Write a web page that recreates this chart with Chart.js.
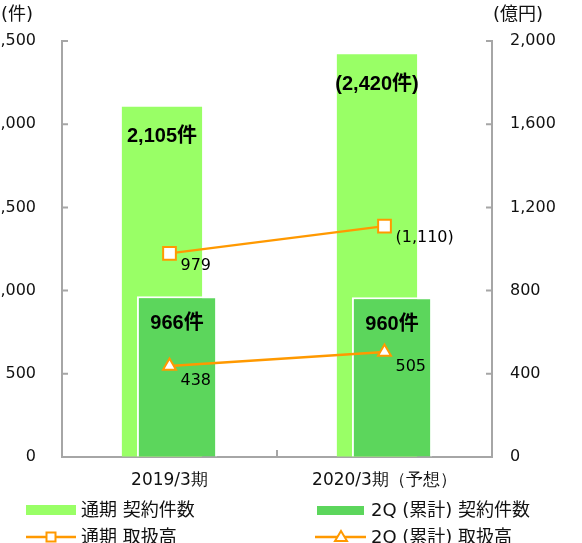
<!DOCTYPE html>
<html>
<head>
<meta charset="utf-8">
<script src="https://cdn.jsdelivr.net/npm/chart.js@4"></script>
<style>
  body { margin: 0; background: #fff; overflow: hidden; }
  #wrap { position: relative; width: 582px; height: 543px; }
  .lg { position: absolute; font: 18px "DejaVu Sans", "Noto Sans CJK JP", sans-serif; color: #111; line-height: 20px; white-space: nowrap; }
  .sw { position: absolute; }
</style>
</head>
<body>
<div id="wrap">
  <canvas id="c" width="582" height="543"></canvas>
  <div class="sw" style="left:26px;top:505px;width:50px;height:10px;background:#99FF66"></div>
  <div class="lg" style="left:81px;top:500px">通期 契約件数</div>
  <div class="sw" style="left:317px;top:506px;width:47px;height:9px;background:#5CD65C"></div>
  <div class="lg" style="left:371px;top:500px">2Q (累計) 契約件数</div>
  <svg class="sw" style="left:26px;top:527px" width="52" height="20">
    <line x1="0" y1="10" x2="50" y2="10" stroke="#FF9900" stroke-width="2.5"/>
    <rect x="20.5" y="5.5" width="9" height="9" fill="#fff" stroke="#FF9900" stroke-width="2"/>
  </svg>
  <div class="lg" style="left:81px;top:527px">通期 取扱高</div>
  <svg class="sw" style="left:315px;top:527px" width="52" height="20">
    <line x1="0" y1="10" x2="51" y2="10" stroke="#FF9900" stroke-width="2.5"/>
    <polygon points="26,4 32,14 20,14" fill="#fff" stroke="#FF9900" stroke-width="2"/>
  </svg>
  <div class="lg" style="left:371px;top:527px">2Q (累計) 取扱高</div>
</div>
<script>
// data
const categories = ['2019/3期', '2020/3期（予想）'];
const fullYearCount = [2105, 2420];
const halfYearCount = [966, 960];
const fullYearAmount = [979, 1110];
const halfYearAmount = [438, 505];
const fullYearCountText = ['2,105件', '(2,420件)'];
const halfYearCountText = ['966件', '960件'];
const fullYearAmountText = ['979', '(1,110)'];
const halfYearAmountText = ['438', '505'];
const leftTicks = [0, 500, 1000, 1500, 2000, 2500];
const rightTicks = [0, 400, 800, 1200, 1600, 2000];

const ORANGE = '#FF9900';
const tickFont = { family: 'DejaVu Sans', size: 16 };

// light bar has to sit left AND under the dark one, so draw it first by hand
const underPlugin = {
    id: 'under',
    beforeDatasetsDraw(chart) {
        chart.getDatasetMeta(0).controller.draw();
    },
    beforeDatasetDraw(chart, args) {
        if (args.index === 0) return false;
    }
};

// value labels
const labelPlugin = {
    id: 'labels',
    afterDatasetsDraw(chart) {
        const ctx = chart.ctx;
        ctx.save();
        ctx.fillStyle = '#000';
        ctx.textBaseline = 'middle';
        ctx.font = 'bold 20px "Liberation Sans", "Noto Sans CJK JP", sans-serif';
        ctx.textAlign = 'center';
        chart.getDatasetMeta(0).data.forEach((el, i) => ctx.fillText(fullYearCountText[i], el.x, el.y + 30));
        chart.getDatasetMeta(1).data.forEach((el, i) => ctx.fillText(halfYearCountText[i], el.x, el.y + 27));
        ctx.font = '16px "DejaVu Sans", sans-serif';
        ctx.textAlign = 'left';
        chart.getDatasetMeta(2).data.forEach((el, i) => ctx.fillText(fullYearAmountText[i], el.x + 11, el.y + 12));
        chart.getDatasetMeta(3).data.forEach((el, i) => ctx.fillText(halfYearAmountText[i], el.x + 11, el.y + 15));
        ctx.restore();
    }
};

// inward tick marks + unit titles
const axisPlugin = {
    id: 'axisExtras',
    afterDraw(chart) {
        const ctx = chart.ctx;
        const a = chart.chartArea;
        const y = chart.scales.y, y1 = chart.scales.y1, x = chart.scales.x;
        ctx.save();
        ctx.strokeStyle = '#A6A6A6';
        ctx.lineWidth = 2;
        ctx.beginPath();
        leftTicks.forEach(v => {
            const p = y.getPixelForValue(v);
            ctx.moveTo(a.left, p); ctx.lineTo(a.left + 6, p);
        });
        rightTicks.forEach(v => {
            const p = y1.getPixelForValue(v);
            ctx.moveTo(a.right - 6, p); ctx.lineTo(a.right, p);
        });
        const mid = (x.getPixelForValue(0) + x.getPixelForValue(1)) / 2;
        ctx.moveTo(mid, a.bottom); ctx.lineTo(mid, a.bottom - 7);
        ctx.stroke();

        ctx.fillStyle = '#111';
        ctx.font = '18px "DejaVu Sans", "Noto Sans CJK JP", sans-serif';
        ctx.textAlign = 'center';
        ctx.textBaseline = 'middle';
        ctx.fillText('(件)', 17, 15);
        ctx.fillText('(億円)', 518, 15);
        ctx.restore();
    }
};

const chart = new Chart(document.getElementById('c'), {
    type: 'bar',
    data: {
        labels: categories,
        datasets: [
            {
                label: '通期 契約件数',
                data: fullYearCount,
                backgroundColor: '#99FF66',
                yAxisID: 'y',
                order: 2
            },
            {
                label: '2Q (累計) 契約件数',
                data: halfYearCount,
                backgroundColor: '#5CD65C',
                borderColor: '#ffffff',
                borderWidth: 2,
                borderSkipped: 'bottom',
                yAxisID: 'y',
                order: 3
            },
            {
                type: 'line',
                label: '通期 取扱高',
                data: fullYearAmount,
                borderColor: ORANGE,
                borderWidth: 2.5,
                pointStyle: 'rect',
                pointRadius: 9,
                pointBorderWidth: 2,
                pointBackgroundColor: '#fff',
                pointBorderColor: ORANGE,
                yAxisID: 'y1',
                order: 1
            },
            {
                type: 'line',
                label: '2Q (累計) 取扱高',
                data: halfYearAmount,
                borderColor: ORANGE,
                borderWidth: 2.5,
                pointStyle: 'triangle',
                pointRadius: 7.5,
                pointBorderWidth: 2,
                pointBackgroundColor: '#fff',
                pointBorderColor: ORANGE,
                yAxisID: 'y1',
                order: 0
            }
        ]
    },
    options: {
        responsive: false,
        animation: false,
        categoryPercentage: 0.14,
        barPercentage: 5.33,
        layout: { padding: { top: 41, bottom: 0, left: 0, right: 0 } },
        plugins: {
            legend: { display: false },
            tooltip: { enabled: false }
        },
        scales: {
            x: {
                grid: { drawOnChartArea: false, drawTicks: false },
                border: { color: '#A6A6A6', width: 2 },
                ticks: { color: '#111', font: { family: 'DejaVu Sans', size: 17 }, padding: 13, maxRotation: 0 },
                afterFit(s) { s.height = 86; }
            },
            y: {
                position: 'left',
                min: 0, max: 2500,
                grid: { drawOnChartArea: false, drawTicks: false },
                border: { color: '#A6A6A6', width: 2 },
                ticks: {
                    stepSize: 500, color: '#111', font: tickFont, padding: 26,
                    callback: v => v.toLocaleString('en-US')
                },
                afterFit(s) { s.width = 62; }
            },
            y1: {
                position: 'right',
                min: 0, max: 2000,
                grid: { drawOnChartArea: false, drawTicks: false },
                border: { color: '#A6A6A6', width: 2 },
                ticks: {
                    stepSize: 400, color: '#111', font: tickFont, padding: 18,
                    callback: v => v.toLocaleString('en-US')
                },
                afterFit(s) { s.width = 90; }
            }
        }
    },
    plugins: [underPlugin, labelPlugin, axisPlugin]
});
</script>
</body>
</html>
